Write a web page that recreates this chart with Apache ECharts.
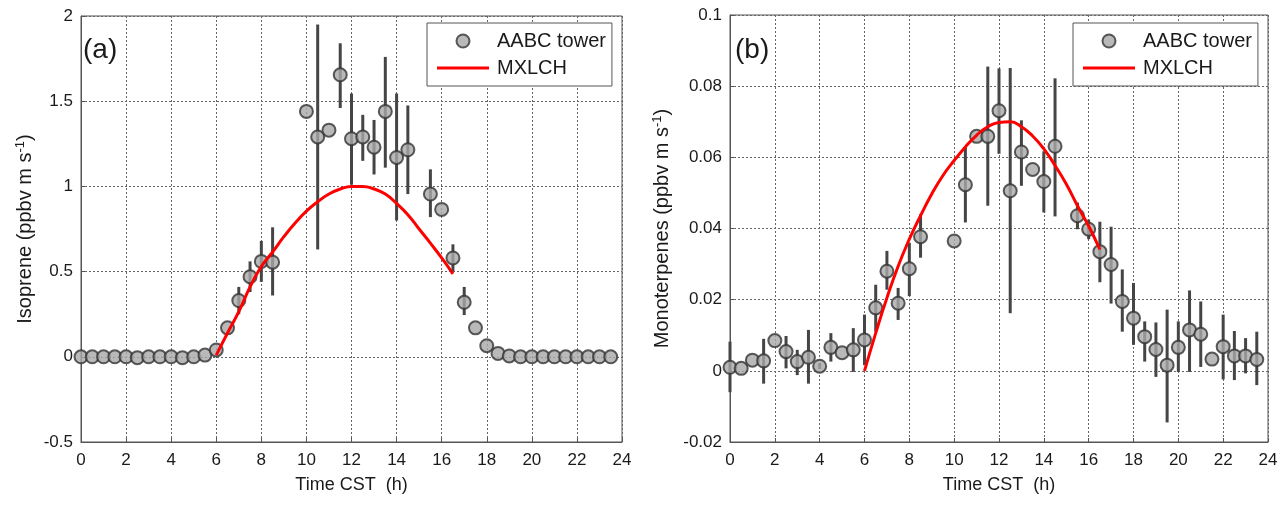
<!DOCTYPE html>
<html>
<head>
<meta charset="utf-8">
<script src="https://cdn.jsdelivr.net/npm/echarts@6/dist/echarts.min.js"></script>
<style>
  html, body { margin: 0; padding: 0; background: #fff; }
  #main { width: 1287px; height: 506px; }
</style>
</head>
<body>
<div id="main"></div>
<script>
// hours with observations (9, 9.5 and 15 h missing)
var hours = [0, 0.5, 1, 1.5, 2, 2.5, 3, 3.5, 4, 4.5, 5, 5.5, 6, 6.5, 7, 7.5, 8, 8.5,
    10, 10.5, 11, 11.5, 12, 12.5, 13, 13.5, 14, 14.5,
    15.5, 16, 16.5, 17, 17.5, 18, 18.5, 19, 19.5, 20, 20.5, 21, 21.5, 22, 22.5, 23, 23.5];

// (a) isoprene flux, AABC tower
var isoVals = [0, 0, 0, 0, 0, -0.005, 0, 0, 0, -0.005, 0, 0.01, 0.04, 0.17, 0.33, 0.47, 0.56, 0.555,
    1.44, 1.29, 1.33, 1.655, 1.28, 1.29, 1.23, 1.44, 1.17, 1.215,
    0.955, 0.865, 0.58, 0.32, 0.17, 0.065, 0.02, 0.005, 0, 0, 0, 0, 0, 0, 0, 0, 0];
var isoLo = [null, null, null, null, null, null, null, null, null, null, null, null, null, null, 0.25, 0.38, 0.44, 0.36,
    null, 0.63, null, 1.46, 1.01, 1.15, 1.07, 1.11, 0.8, 0.955,
    0.82, null, 0.5, 0.245, null, null, null, null, null, null, null, null, null, null, null, null, null];
var isoHi = [null, null, null, null, null, null, null, null, null, null, null, null, null, null, 0.41, 0.56, 0.68, 0.76,
    null, 1.95, null, 1.84, 1.545, 1.42, 1.39, 1.76, 1.545, 1.475,
    1.1, null, 0.66, 0.41, null, null, null, null, null, null, null, null, null, null, null, null, null];

// (b) monoterpene flux, AABC tower
var monoVals = [0.001, 0.0007, 0.003, 0.0028, 0.0085, 0.0054, 0.0026, 0.0038, 0.0013, 0.0066, 0.0051, 0.0059, 0.0087, 0.0177, 0.028, 0.019, 0.0287, 0.0377,
    0.0365, 0.0523, 0.0659, 0.0659, 0.0731, 0.0506, 0.0615, 0.0566, 0.0532, 0.0631,
    0.0436, 0.0398, 0.0335, 0.0299, 0.0195, 0.0148, 0.0096, 0.006, 0.0016, 0.0066, 0.0115, 0.0103, 0.0033, 0.0068, 0.0042, 0.0042, 0.0032];
var monoLo = [-0.006, null, null, -0.0036, null, 0.0007, -0.0012, -0.0036, 0.0005, 0.0026, null, -0.0003, 0.0016, 0.011, 0.0228, 0.0143, 0.021, 0.0318,
    null, 0.0417, null, 0.0464, 0.061, 0.0162, 0.052, null, 0.0445, 0.0434,
    0.0398, 0.037, 0.0249, 0.0189, 0.011, 0.0073, 0.0026, -0.0017, -0.0145, -0.0003, -0.0003, 0.0011, null, -0.0024, -0.0026, -0.0007, -0.004];
var monoHi = [0.0082, null, null, 0.009, null, 0.0098, 0.0059, 0.0115, 0.0022, 0.0106, null, 0.012, 0.0158, 0.0242, 0.0337, 0.0233, 0.036, 0.044,
    null, 0.0629, null, 0.0855, 0.085, 0.0851, 0.0704, null, 0.0617, 0.0822,
    0.0473, 0.0425, 0.0419, 0.0405, 0.0285, 0.0247, 0.0139, 0.0136, 0.0172, 0.0139, 0.0226, 0.0195, null, 0.0158, 0.0112, 0.0092, 0.011];

// MXLCH model curves
var modelHours = [6, 6.5, 7, 7.5, 8, 8.5, 9, 9.5, 10, 10.5, 11, 11.5, 12, 12.5, 13, 13.5, 14, 14.5, 15, 15.5, 16, 16.5];
var isoModel = [0.01, 0.14, 0.265, 0.41, 0.53, 0.615, 0.705, 0.785, 0.855, 0.91, 0.955, 0.985, 1.0, 1.0, 0.985, 0.955, 0.9, 0.834, 0.75, 0.667, 0.58, 0.487];
var monoModel = [0.0, 0.0106, 0.0205, 0.0294, 0.037, 0.0436, 0.0497, 0.0549, 0.0591, 0.0629, 0.0662, 0.0686, 0.0698, 0.07, 0.0686, 0.066, 0.0624, 0.0577, 0.0525, 0.0464, 0.0407, 0.0341];

var font = "Liberation Sans";
var txt = "#1a1a1a";

function pairs(xs, ys) {
    return xs.map(function (x, i) { return [x, ys[i]]; });
}
function errData(xs, lo, hi) {
    var out = [];
    xs.forEach(function (x, i) {
        if (lo[i] !== null && hi[i] !== null) out.push([x, lo[i], hi[i]]);
    });
    return out;
}
function errRender(params, api) {
    var p1 = api.coord([api.value(0), api.value(1)]);
    var p2 = api.coord([api.value(0), api.value(2)]);
    return {
        type: "line",
        shape: { x1: p1[0], y1: p1[1], x2: p2[0], y2: p2[1] },
        style: { stroke: "#454545", lineWidth: 3 }
    };
}

var gridLine = { show: true, lineStyle: { color: "#666", type: [2, 2], width: 1 } };

function xAxis(idx) {
    return {
        type: "value", gridIndex: idx, min: 0, max: 24, interval: 2,
        name: "Time CST  (h)", nameLocation: "middle", nameGap: 34,
        nameTextStyle: { fontFamily: font, fontSize: 18, color: txt },
        axisLine: { show: true, onZero: false, lineStyle: { color: "#555", width: 1 } },
        axisTick: { show: true, inside: true, length: 4, lineStyle: { color: "#555" } },
        axisLabel: { fontFamily: font, fontSize: 17, color: txt, margin: 10 },
        splitLine: gridLine
    };
}
function yAxis(idx, min, max, interval, nameRich, gap, dec) {
    return {
        type: "value", gridIndex: idx, min: min, max: max, interval: interval,
        name: nameRich, nameLocation: "middle", nameGap: gap,
        nameTextStyle: {
            fontFamily: font, fontSize: 20, color: txt,
            rich: {
                n: { fontFamily: font, fontSize: 20, color: txt },
                s: { fontFamily: font, fontSize: 13, color: txt, verticalAlign: "top", padding: [0, 0, 9, 0] }
            }
        },
        axisLine: { show: true, lineStyle: { color: "#555", width: 1 } },
        axisTick: { show: true, inside: true, length: 4, lineStyle: { color: "#555" } },
        axisLabel: {
            fontFamily: font, fontSize: 17, color: txt, margin: 8,
            formatter: function (v) { return String(+v.toFixed(dec)); }
        },
        splitLine: gridLine
    };
}
function legend(left) {
    return {
        orient: "vertical", left: left, top: 23,
        data: [
            { name: "AABC tower" },
            { name: "MXLCH", icon: "path://M0,0H52V3H0Z" }
        ],
        itemWidth: 52, itemHeight: 13, itemGap: 7,
        padding: [8, 6, 8, 10],
        borderColor: "#555", borderWidth: 1, backgroundColor: "#fff",
        textStyle: { fontFamily: font, fontSize: 20, color: txt, padding: [0, 0, 0, 3] },
        selectedMode: false
    };
}

var dotStyle = { color: "#a8a8a8", borderColor: "#333", borderWidth: 2 };

var myChart = echarts.init(document.getElementById("main"), null, { renderer: "canvas" });

var option = {
    animation: false,
    backgroundColor: "#fff",
    grid: [
        { left: 81, top: 16, width: 541, height: 426, show: true, borderColor: "#555", borderWidth: 1 },
        { left: 730, top: 15, width: 538, height: 427, show: true, borderColor: "#555", borderWidth: 1 }
    ],
    xAxis: [xAxis(0), xAxis(1)],
    yAxis: [
        yAxis(0, -0.5, 2, 0.5, "{n|Isoprene (ppbv m s}{s|-1}{n|)}", 45, 1),
        yAxis(1, -0.02, 0.1, 0.02, "{n|Monoterpenes (ppbv m s}{s|-1}{n|)}", 57, 2)
    ],
    legend: [legend(427), legend(1073)],
    graphic: [
        { type: "text", left: 83, top: 36, style: { text: "(a)", fontFamily: font, fontSize: 28, fill: txt } },
        { type: "text", left: 735, top: 36, style: { text: "(b)", fontFamily: font, fontSize: 28, fill: txt } }
    ],
    series: [
        { type: "custom", xAxisIndex: 0, yAxisIndex: 0, renderItem: errRender, data: errData(hours, isoLo, isoHi), z: 2, silent: true },
        { name: "AABC tower", type: "scatter", xAxisIndex: 0, yAxisIndex: 0, data: pairs(hours, isoVals), symbolSize: 13, itemStyle: dotStyle, z: 3 },
        { name: "MXLCH", type: "line", xAxisIndex: 0, yAxisIndex: 0, data: pairs(modelHours, isoModel), smooth: true, symbol: "none", lineStyle: { color: "#ff0000", width: 3 }, itemStyle: { color: "#ff0000" }, z: 4 },
        { type: "custom", xAxisIndex: 1, yAxisIndex: 1, renderItem: errRender, data: errData(hours, monoLo, monoHi), z: 2, silent: true },
        { name: "AABC tower", type: "scatter", xAxisIndex: 1, yAxisIndex: 1, data: pairs(hours, monoVals), symbolSize: 13, itemStyle: dotStyle, z: 3 },
        { name: "MXLCH", type: "line", xAxisIndex: 1, yAxisIndex: 1, data: pairs(modelHours, monoModel), smooth: true, symbol: "none", lineStyle: { color: "#ff0000", width: 3 }, itemStyle: { color: "#ff0000" }, z: 4 }
    ]
};
myChart.setOption(option);
</script>
</body>
</html>
